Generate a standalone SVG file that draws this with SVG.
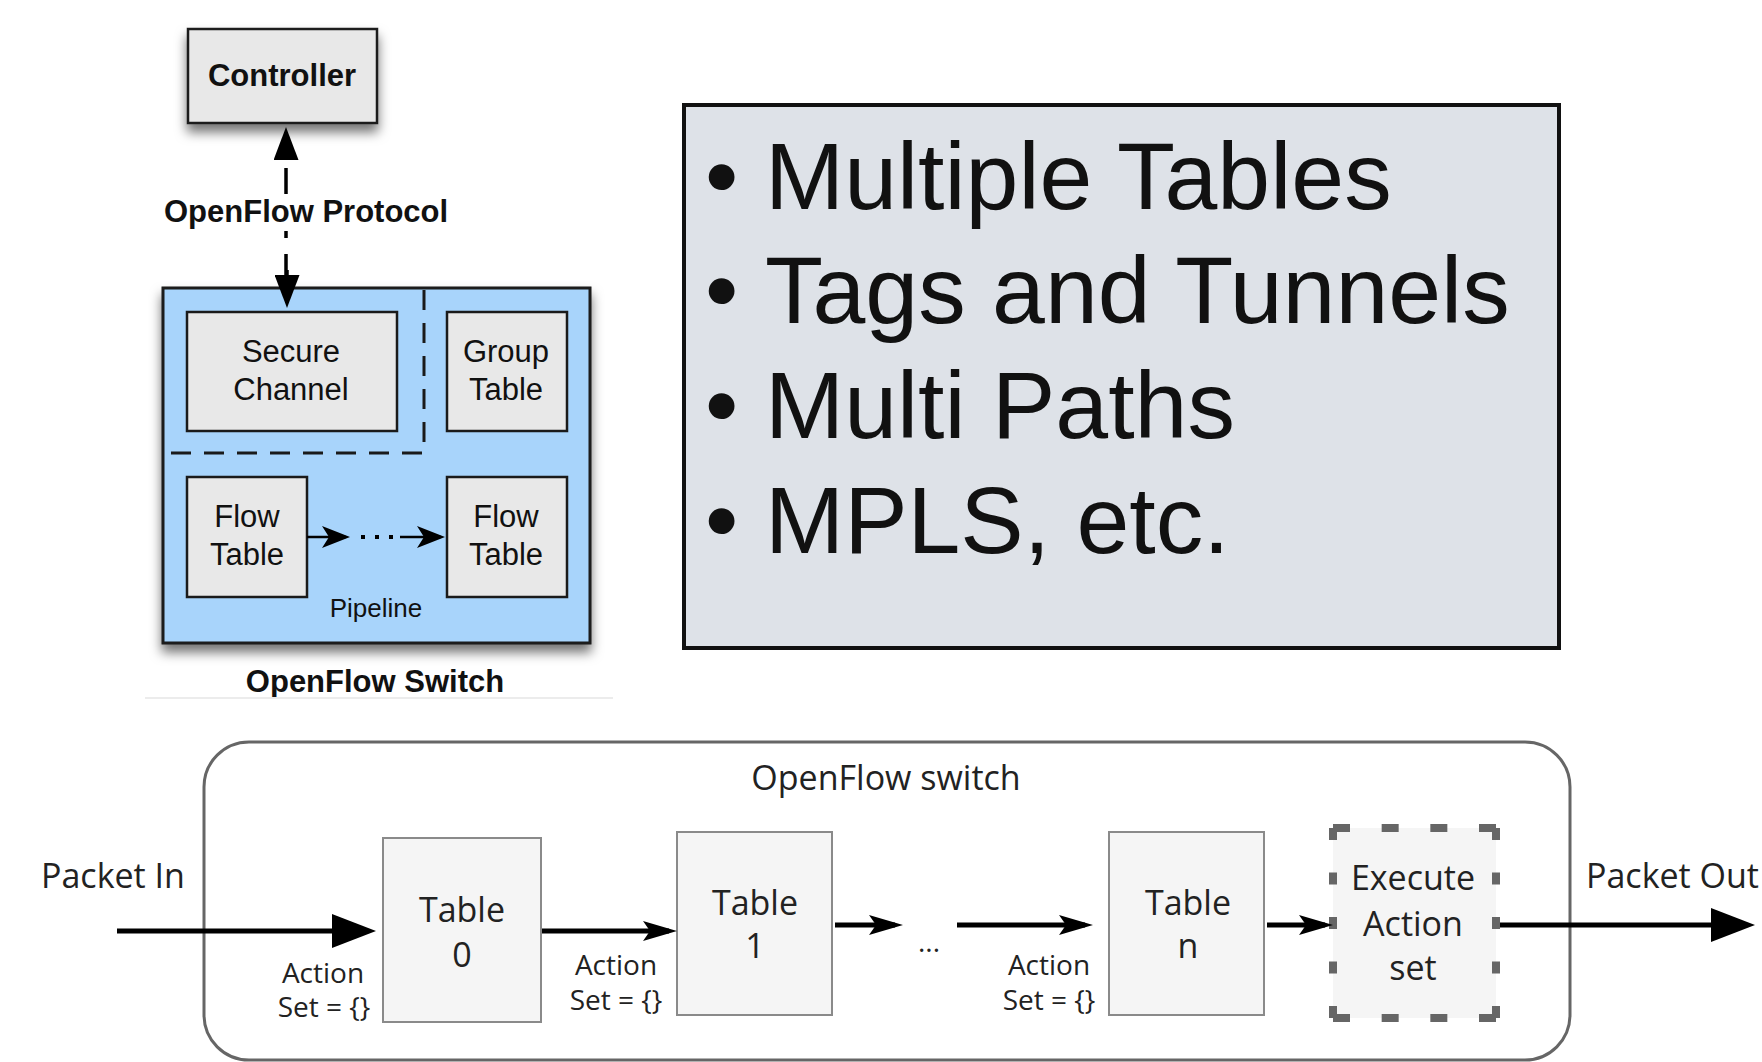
<svg xmlns="http://www.w3.org/2000/svg" width="1762" height="1062" viewBox="0 0 1762 1062">
  <style>
    .hv { font-family: "Liberation Sans", Arial, sans-serif; fill: #111; }
    .hvb { font-family: "Liberation Sans", Arial, sans-serif; font-weight: bold; fill: #111; }
    .ub { font-family: "Open Sans", "Noto Sans", sans-serif; fill: #222; }
    .box { fill: #e8e8e8; stroke: #1a1a1a; stroke-width: 2.5; }
    .tbl { fill: #f5f5f5; stroke: #8a8a8a; stroke-width: 2; }
    .conn { stroke: #000; fill: none; }
  </style>
  <defs>
    <filter id="shadow" x="-20%" y="-20%" width="140%" height="150%">
      <feDropShadow dx="0" dy="8" stdDeviation="6" flood-color="#000" flood-opacity="0.55"/>
    </filter>
    <marker id="tri" viewBox="0 0 33 25" refX="28" refY="12.5" markerWidth="33" markerHeight="25" markerUnits="userSpaceOnUse" orient="auto">
      <path d="M0,0 L33,12.5 L0,25 Z" fill="#000"/>
    </marker>
    <marker id="barbSmall" viewBox="0 0 28 22" refX="24" refY="11" markerWidth="28" markerHeight="22" markerUnits="userSpaceOnUse" orient="auto">
      <path d="M0,0 L28,11 L0,22 L7,11 Z" fill="#000"/>
    </marker>
    <marker id="barb" viewBox="0 0 34 20" refX="26" refY="10" markerWidth="34" markerHeight="20" markerUnits="userSpaceOnUse" orient="auto">
      <path d="M0,0 L34,10 L0,20 L7,10 Z" fill="#000"/>
    </marker>
    <marker id="bigTri" viewBox="0 0 44 34" refX="32" refY="17" markerWidth="44" markerHeight="34" markerUnits="userSpaceOnUse" orient="auto">
      <path d="M0,0 L44,17 L0,34 Z" fill="#000"/>
    </marker>
  </defs>

  <rect width="1762" height="1062" fill="#fff"/>

  <!-- Upper-left: controller and switch architecture -->
  <g id="controller">
    <rect x="188" y="29" width="189" height="94" class="box" filter="url(#shadow)"/>
    <text x="282" y="86" class="hvb" font-size="31" text-anchor="middle">Controller</text>
  </g>

  <g id="openflow-switch">
    <rect x="163" y="288" width="427" height="355" fill="#a8d4fb" stroke="#1a1a1a" stroke-width="3" filter="url(#shadow)"/>
    <path d="M424,290 V453 H165" fill="none" stroke="#1a1a1a" stroke-width="3" stroke-dasharray="20 13"/>
    <text x="376" y="617" class="hv" font-size="26" text-anchor="middle">Pipeline</text>
    <text x="375" y="692" class="hvb" font-size="31" text-anchor="middle">OpenFlow Switch</text>
    <line x1="145" y1="698" x2="613" y2="698" stroke="#ececec" stroke-width="2"/>
  </g>

  <g id="secure-channel">
    <rect x="187" y="312" width="210" height="119" class="box"/>
    <text x="291" y="362" class="hv" font-size="31" text-anchor="middle">Secure</text>
    <text x="291" y="400" class="hv" font-size="31" text-anchor="middle">Channel</text>
  </g>

  <g id="group-table">
    <rect x="447" y="312" width="120" height="119" class="box"/>
    <text x="506" y="362" class="hv" font-size="31" text-anchor="middle">Group</text>
    <text x="506" y="400" class="hv" font-size="31" text-anchor="middle">Table</text>
  </g>

  <g id="flow-table-first">
    <rect x="187" y="477" width="120" height="120" class="box"/>
    <text x="247" y="527" class="hv" font-size="31" text-anchor="middle">Flow</text>
    <text x="247" y="565" class="hv" font-size="31" text-anchor="middle">Table</text>
  </g>

  <g id="flow-table-last">
    <rect x="447" y="477" width="120" height="120" class="box"/>
    <text x="506" y="527" class="hv" font-size="31" text-anchor="middle">Flow</text>
    <text x="506" y="565" class="hv" font-size="31" text-anchor="middle">Table</text>
  </g>

  <g id="protocol-label">
    <text x="164" y="222" class="hvb" font-size="31">OpenFlow Protocol</text>
  </g>

  <!-- Right: feature list -->
  <g id="feature-list">
    <rect x="684" y="105" width="875" height="543" fill="#dee2e8" stroke="#111" stroke-width="4"/>
    <g class="hv" font-size="95">
      <text x="705" y="209">•</text>
      <text x="765" y="209">Multiple Tables</text>
      <text x="705" y="323">•</text>
      <text x="765" y="323">Tags and Tunnels</text>
      <text x="705" y="438">•</text>
      <text x="765" y="438">Multi Paths</text>
      <text x="705" y="553">•</text>
      <text x="765" y="553">MPLS, etc.</text>
    </g>
  </g>

  <!-- Bottom: multi-table pipeline -->
  <g id="pipeline-switch">
    <rect x="204" y="742" width="1366" height="318" rx="45" ry="45" fill="#fff" stroke="#666" stroke-width="3"/>
    <text x="886" y="790" class="ub" font-size="34" text-anchor="middle">OpenFlow switch</text>
  </g>

  <g id="packet-in">
    <text x="41" y="888" class="ub" font-size="34">Packet In</text>
  </g>

  <g id="table-0">
    <rect x="383" y="838" width="158" height="184" class="tbl"/>
    <text x="462" y="922" class="ub" font-size="34" text-anchor="middle">Table</text>
    <text x="462" y="967" class="ub" font-size="34" text-anchor="middle">0</text>
  </g>

  <g id="table-1">
    <rect x="677" y="832" width="155" height="183" class="tbl"/>
    <text x="755" y="915" class="ub" font-size="34" text-anchor="middle">Table</text>
    <text x="755" y="958" class="ub" font-size="34" text-anchor="middle">1</text>
  </g>

  <g id="table-n">
    <rect x="1109" y="832" width="155" height="183" class="tbl"/>
    <text x="1188" y="915" class="ub" font-size="34" text-anchor="middle">Table</text>
    <text x="1188" y="958" class="ub" font-size="34" text-anchor="middle">n</text>
  </g>

  <g id="execute-action-set">
    <rect x="1333" y="828" width="163" height="190" fill="#f5f5f5"/>
    <g stroke="#666" stroke-width="8" fill="none">
      <line x1="1333" y1="828" x2="1496" y2="828" stroke-dasharray="17 31.67"/>
      <line x1="1333" y1="1018" x2="1496" y2="1018" stroke-dasharray="17 31.67"/>
      <line x1="1333" y1="828" x2="1333" y2="1018" stroke-dasharray="12 32.5"/>
      <line x1="1496" y1="828" x2="1496" y2="1018" stroke-dasharray="12 32.5"/>
    </g>
    <text x="1413" y="890" class="ub" font-size="34" text-anchor="middle">Execute</text>
    <text x="1413" y="936" class="ub" font-size="34" text-anchor="middle">Action</text>
    <text x="1413" y="980" class="ub" font-size="34" text-anchor="middle">set</text>
  </g>

  <g id="packet-out">
    <text x="1586" y="888" class="ub" font-size="34">Packet Out</text>
  </g>

  <g id="action-set-labels" class="ub" font-size="28" text-anchor="middle">
    <text x="323" y="983">Action</text>
    <text x="324" y="1017">Set = {}</text>
    <text x="616" y="975">Action</text>
    <text x="616" y="1010">Set = {}</text>
    <text x="1049" y="975">Action</text>
    <text x="1049" y="1010">Set = {}</text>
    <text x="929" y="952" font-size="28">...</text>
  </g>

  <!-- Connectors -->
  <g id="connectors">
    <path class="conn" d="M286,168 V194 M286,231 V238 M286,254 V277" stroke-width="3.5"/>
    <line class="conn" x1="286" y1="159" x2="286" y2="132" stroke-width="3.5" marker-end="url(#tri)"/>
    <line class="conn" x1="287" y1="270" x2="287" y2="303" stroke-width="3.5" marker-end="url(#tri)"/>

    <line class="conn" x1="307" y1="537" x2="346" y2="537" stroke-width="2.5" marker-end="url(#barbSmall)"/>
    <line class="conn" x1="361" y1="537" x2="393" y2="537" stroke-width="4" stroke-dasharray="4 10"/>
    <line class="conn" x1="400" y1="537" x2="441" y2="537" stroke-width="2.5" marker-end="url(#barbSmall)"/>

    <line class="conn" x1="117" y1="931" x2="364" y2="931" stroke-width="5" marker-end="url(#bigTri)"/>
    <line class="conn" x1="542" y1="931" x2="669" y2="931" stroke-width="5" marker-end="url(#barb)"/>
    <line class="conn" x1="835" y1="925" x2="895" y2="925" stroke-width="5" marker-end="url(#barb)"/>
    <line class="conn" x1="957" y1="925" x2="1085" y2="925" stroke-width="5" marker-end="url(#barb)"/>
    <line class="conn" x1="1267" y1="925" x2="1325" y2="925" stroke-width="5" marker-end="url(#barb)"/>
    <line class="conn" x1="1500" y1="925" x2="1743" y2="925" stroke-width="5" marker-end="url(#bigTri)"/>
  </g>
</svg>
